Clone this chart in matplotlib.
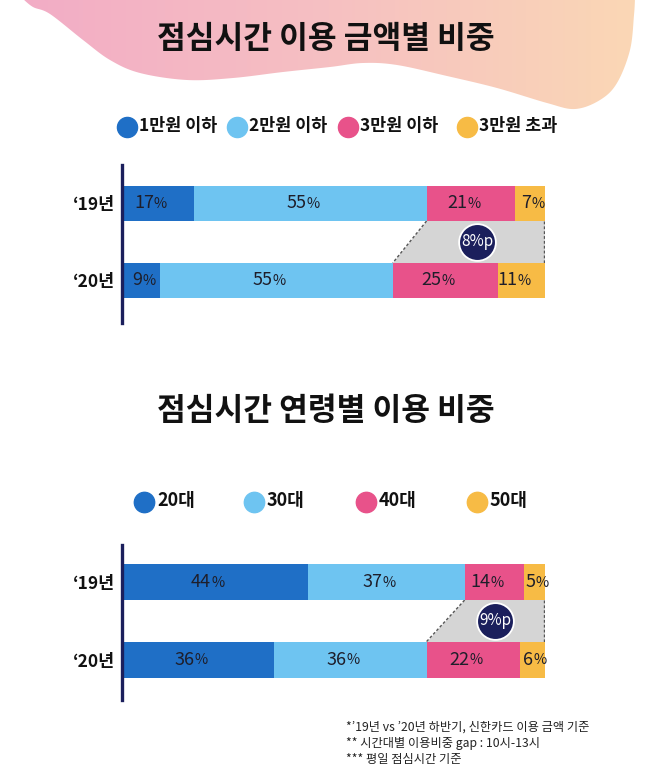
import numpy as np
import matplotlib.pyplot as plt
from matplotlib.path import Path
from matplotlib.patches import PathPatch, Polygon
from matplotlib.colors import LinearSegmentedColormap

plt.rcParams['font.family'] = ['Noto Sans CJK KR', 'DejaVu Sans']

# 데이터
years = ['‘19년', '‘20년']
amount_labels = ['1만원 이하', '2만원 이하', '3만원 이하', '3만원 초과']
amount_19 = [17, 55, 21, 7]
amount_20 = [9, 55, 25, 11]
amount_gap = '8%p'

age_labels = ['20대', '30대', '40대', '50대']
age_19 = [44, 37, 14, 5]
age_20 = [36, 36, 22, 6]
age_gap = '9%p'

colors = ['#1f6fc6', '#6ec4f1', '#e8528a', '#f7bb45']
navy = '#1b1f5c'

W, H = 658, 772
fig = plt.figure(figsize=(W / 100, H / 100), dpi=100)
fig.patch.set_facecolor('white')

# 배경 (픽셀 좌표)
bg = fig.add_axes([0, 0, 1, 1])
bg.set_xlim(0, W)
bg.set_ylim(H, 0)
bg.axis('off')


def catmull(pts, n=20):
    pts = np.asarray(pts, float)
    p = np.vstack([pts[0], pts, pts[-1]])
    out = []
    for i in range(1, len(p) - 2):
        p0, p1, p2, p3 = p[i - 1], p[i], p[i + 1], p[i + 2]
        for t in np.linspace(0, 1, n, endpoint=False):
            t2, t3 = t * t, t * t * t
            out.append(0.5 * ((2 * p1) + (-p0 + p2) * t + (2 * p0 - 5 * p1 + 4 * p2 - p3) * t2
                              + (-p0 + 3 * p1 - 3 * p2 + p3) * t3))
    out.append(pts[-1])
    return np.array(out)


blob = catmull([(22, -2), (33, 7), (50, 14), (83, 40), (110, 60), (140, 73), (187, 80),
                (233, 78), (283, 72), (330, 67), (363, 63), (397, 65), (447, 76),
                (497, 88), (547, 103), (575, 109), (600, 100), (617, 83), (630, 50),
                (634, 15), (635, -2)])
verts = np.vstack([blob, [(22, -2)]])
codes = [Path.MOVETO] + [Path.LINETO] * (len(verts) - 2) + [Path.CLOSEPOLY]
patch = PathPatch(Path(verts, codes), facecolor='none', edgecolor='none')
bg.add_patch(patch)
grad = np.linspace(0, 1, 256)[None, :]
cmap = LinearSegmentedColormap.from_list('bg', ['#f2abc6', '#f6c0c2', '#fbd9b4'])
im = bg.imshow(grad, cmap=cmap, extent=[0, W, 140, -2], aspect='auto', zorder=0)
im.set_clip_path(patch)
bg.set_xlim(0, W)
bg.set_ylim(H, 0)

# 제목
bg.text(326, 39, '점심시간 이용 금액별 비중', ha='center', va='center', fontsize=22.5,
        fontweight='bold', color='#111111')
bg.text(326, 411, '점심시간 연령별 이용 비중', ha='center', va='center', fontsize=22.5,
        fontweight='bold', color='#111111')

# 범례
for x, lab, c in zip([127, 237, 348, 467], amount_labels, colors):
    bg.scatter([x], [127], s=210, color=c, zorder=3)
    bg.text(x + 12, 126, lab, ha='left', va='center', fontsize=12.5, fontweight='bold', color='#111111')
for x, lab, c in zip([144, 254, 366, 477], age_labels, colors):
    bg.scatter([x], [502], s=215, color=c, zorder=3)
    bg.text(x + 13, 501, lab, ha='left', va='center', fontsize=13, fontweight='bold', color='#111111')

# 주석
notes = ['*’19년 vs ’20년 하반기, 신한카드 이용 금액 기준',
         '** 시간대별 이용비중 gap : 10시-13시',
         '*** 평일 점심시간 기준']
for i, s in enumerate(notes):
    bg.text(346, 727 + i * 16.5, s, ha='left', va='center', fontsize=8.8, color='#222222')


def pct_label(ax, cx, cy, v, fs=13):
    num = str(v)
    nw = len(num) * 0.56 * fs
    pw = 0.85 * fs * 0.8
    off = (pw - nw) / 2
    ax.annotate(num, (cx, cy), xytext=(off, 0), textcoords='offset points',
                ha='right', va='center', fontsize=fs, color='#1e1e2a')
    ax.annotate('%', (cx, cy), xytext=(off, -0.5), textcoords='offset points',
                ha='left', va='center', fontsize=fs * 0.8, color='#1e1e2a')


def stacked(rect_px, ylim, bar_h, v19, v20, gap):
    x0, y0, x1, y1 = rect_px
    ax = fig.add_axes([x0 / W, 1 - y1 / H, (x1 - x0) / W, (y1 - y0) / H])
    ax.set_xlim(0, 100)
    ax.set_ylim(*ylim)
    ax.patch.set_alpha(0)
    for s in ['top', 'right', 'bottom']:
        ax.spines[s].set_visible(False)
    ax.spines['left'].set_color(navy)
    ax.spines['left'].set_linewidth(2.4)
    ax.set_xticks([])
    ax.set_yticks([0, 1])
    ax.set_yticklabels(years, fontsize=12.5, fontweight='bold', color='#111111')
    ax.tick_params(axis='y', length=0, pad=5)
    for row, vals in enumerate([v19, v20]):
        left = np.concatenate([[0], np.cumsum(vals)[:-1]])
        ax.barh(row, vals, left=left, height=bar_h, color=colors, edgecolor='none', zorder=2)
        for l, v in zip(left, vals):
            pct_label(ax, l + v / 2, row, v)
    # 격차 영역
    a = sum(v19[:2])
    b = sum(v20[:2])
    yt = bar_h / 2
    yb = 1 - bar_h / 2
    ax.add_patch(Polygon([(a, yt), (100, yt), (100, yb), (b, yb)], closed=True,
                         facecolor='#d5d5d5', edgecolor='none', zorder=1))
    ax.plot([a, b], [yt, yb], ls=(0, (2, 1.5)), color='#555555', lw=1, zorder=1.5)
    ax.plot([99.7, 99.7], [yt, yb], ls=(0, (2, 1.5)), color='#555555', lw=1, zorder=1.5)
    cx = ((a + b) / 2 + 100) / 2
    ax.scatter([cx], [0.5], s=700, color=navy, edgecolor='white', linewidth=1.3, zorder=3)
    ax.text(cx, 0.5, gap, ha='center', va='center', fontsize=11, color='white', zorder=4)
    return ax


stacked((122, 165, 545, 323), (1.552, -0.5), 0.455, amount_19, amount_20, amount_gap)
stacked((122, 545, 545, 700), (1.52, -0.477), 0.465, age_19, age_20, age_gap)

fig.savefig('out.png', dpi=100)
